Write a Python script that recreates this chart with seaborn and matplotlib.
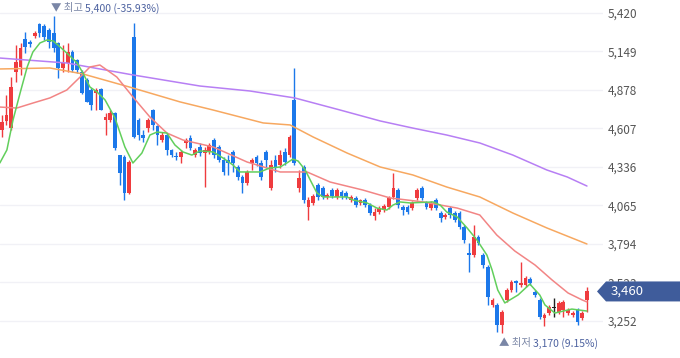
import numpy as np
import pandas as pd
import seaborn as sns
import matplotlib.pyplot as plt
from matplotlib.patches import Polygon

opens = [4595, 4660, 4610, 5005, 5040, 5235, 5215, 5260, 5340, 5330,
         5300, 5280, 5210, 5035, 5070, 5145, 5090, 5005, 4950, 4880,
         4855, 4885, 4665, 4665, 4715, 4420, 4405, 4155, 5250, 4665,
         4560, 4610, 4735, 4625, 4525, 4560, 4455, 4415, 4405, 4505,
         4540, 4420, 4475, 4435, 4440, 4525, 4475, 4385, 4385, 4440,
         4335, 4265, 4225, 4365, 4405, 4365, 4440, 4190, 4385, 4350,
         4440, 4420, 4810, 4190, 4335, 4055, 4085, 4210, 4190, 4125,
         4175, 4125, 4160, 4155, 4105, 4120, 4085, 4105, 4070, 3990,
         4020, 4035, 4055, 4125, 4175, 4055, 4055, 4045, 4120, 4190,
         4085, 4045, 4105, 4010, 3985, 4045, 4010, 4010, 3915, 3730,
         3715, 3845, 3715, 3630, 3365, 3365, 3225, 3400, 3470, 3535,
         3505, 3505, 3550, 3455, 3400, 3275, 3310, 3345, 3315, 3330,
         3310, 3295, 3330, 3275, 3400]
highs = [4700, 4845, 4970, 5195, 5210, 5285, 5230, 5295, 5350, 5340,
         5315, 5400, 5215, 5195, 5210, 5160, 5095, 5020, 4960, 4890,
         4890, 4890, 4715, 4735, 4725, 4420, 4420, 4385, 5350, 4680,
         4595, 4680, 4745, 4630, 4580, 4575, 4465, 4440, 4455, 4540,
         4560, 4470, 4505, 4475, 4505, 4540, 4490, 4405, 4420, 4455,
         4350, 4280, 4315, 4400, 4420, 4385, 4455, 4385, 4420, 4455,
         4470, 4560, 5035, 4315, 4350, 4125, 4145, 4225, 4200, 4155,
         4190, 4190, 4175, 4165, 4140, 4130, 4110, 4120, 4085, 4045,
         4060, 4075, 4130, 4295, 4190, 4070, 4070, 4095, 4190, 4200,
         4095, 4095, 4120, 4025, 4010, 4060, 4025, 4025, 3930, 3800,
         3930, 3855, 3730, 3645, 3415, 3380, 3330, 3485, 3540, 3540,
         3665, 3570, 3560, 3470, 3415, 3310, 3365, 3415, 3395, 3400,
         3345, 3320, 3345, 3320, 3490]
lows = [4545, 4630, 4595, 4935, 4985, 5140, 5180, 5245, 5250, 5230,
        5175, 5145, 4960, 5005, 5005, 5005, 4995, 4850, 4790, 4735,
        4735, 4735, 4560, 4655, 4455, 4210, 4105, 4145, 4540, 4525,
        4510, 4580, 4595, 4490, 4510, 4420, 4405, 4385, 4365, 4470,
        4455, 4405, 4415, 4195, 4425, 4400, 4370, 4280, 4280, 4300,
        4245, 4155, 4210, 4315, 4345, 4245, 4330, 4175, 4300, 4330,
        4350, 4405, 4350, 4160, 4085, 3965, 4070, 4105, 4110, 4110,
        4120, 4110, 4110, 4110, 4090, 4055, 4070, 4055, 4000, 3965,
        4005, 4020, 4040, 4110, 4045, 4000, 4005, 4035, 4105, 4105,
        4040, 4035, 4035, 3950, 3970, 3975, 3950, 3900, 3800, 3595,
        3700, 3785, 3625, 3365, 3350, 3175, 3170, 3385, 3455, 3455,
        3490, 3490, 3505, 3420, 3265, 3215, 3295, 3280, 3300, 3280,
        3295, 3280, 3225, 3260, 3315]
closes = [4655, 4700, 4900, 5075, 5175, 5180, 5200, 5280, 5280, 5250,
          5215, 5175, 5035, 5070, 5145, 5020, 5020, 4855, 4795, 4770,
          4880, 4735, 4690, 4715, 4470, 4295, 4155, 4370, 4545, 4560,
          4540, 4665, 4630, 4560, 4560, 4455, 4420, 4405, 4440, 4525,
          4470, 4455, 4435, 4455, 4490, 4420, 4385, 4300, 4365, 4365,
          4265, 4225, 4300, 4385, 4365, 4265, 4385, 4350, 4330, 4420,
          4370, 4545, 4365, 4260, 4105, 4105, 4130, 4125, 4125, 4140,
          4130, 4175, 4130, 4125, 4125, 4070, 4105, 4070, 4010, 4020,
          4045, 4060, 4120, 4190, 4070, 4035, 4020, 4085, 4175, 4120,
          4055, 4085, 4045, 3975, 4000, 4000, 3965, 3915, 3820, 3715,
          3845, 3800, 3645, 3420, 3400, 3225, 3315, 3470, 3525, 3520,
          3520, 3555, 3520, 3435, 3280, 3295, 3350, 3345, 3380, 3385,
          3330, 3310, 3245, 3310, 3460]

# moving averages, sampled along each line (x = candle position)
ma5_x = [-0.4, 1.1, 2.4, 3.9, 5.4, 6.6, 8.1, 9.6, 10.9, 11.9, 13.8, 16.0, 17.2,
         18.7, 20.2, 21.9, 24.0, 26.1, 27.8, 29.7, 31.4, 32.9, 35.0, 36.7, 38.4,
         40.3, 42.0, 44.8, 46.9, 49.0, 50.5, 54.7, 56.8, 59.0, 60.4, 61.7, 62.8,
         64.3, 65.7, 66.8, 68.1, 73.2, 74.4, 77.4, 79.5, 81.6, 82.9, 84.4, 86.5,
         91.4, 92.9, 94.3, 96.5, 98.6, 100.7, 102.8, 103.9, 105.1, 106.6, 109.4,
         111.9, 114.0, 115.1, 117.2, 120.8, 124.0]
ma5_y = [4364, 4456, 4667, 4857, 5040, 5145, 5209, 5230, 5223, 5195, 5138, 5068,
         4998, 4899, 4864, 4808, 4681, 4477, 4364, 4434, 4561, 4582, 4575, 4491,
         4442, 4420, 4449, 4442, 4399, 4350, 4301, 4301, 4329, 4336, 4364, 4392,
         4378, 4315, 4223, 4153, 4125, 4125, 4104, 4083, 4047, 4033, 4068, 4090,
         4083, 4090, 4068, 4019, 3984, 3907, 3822, 3716, 3611, 3470, 3379, 3435,
         3512, 3435, 3365, 3308, 3336, 3322]
ma20_x = [-0.4, 3.2, 6.6, 10.2, 13.8, 16.6, 18.7, 20.8, 24.4, 27.8, 31.4, 35.0,
          38.4, 44.8, 52.0, 59.0, 64.7, 69.6, 76.5, 82.3, 89.3, 96.5, 101.3,
          104.9, 108.7, 113.0, 116.6, 120.0, 123.0, 124.0]
ma20_y = [4758, 4751, 4786, 4822, 4878, 4969, 5040, 5054, 4969, 4829, 4688, 4575,
          4526, 4477, 4371, 4301, 4301, 4230, 4174, 4118, 4090, 4047, 3998, 3857,
          3745, 3646, 3541, 3449, 3400, 3386]
ma60_x = [-0.4, 10.2, 17.2, 27.8, 37.8, 44.8, 55.4, 61.1, 66.0, 73.2, 80.2, 87.1,
          94.3, 101.3, 108.3, 115.5, 124.0]
ma60_y = [5026, 5033, 4991, 4892, 4794, 4737, 4646, 4632, 4547, 4434, 4336, 4280,
          4195, 4125, 4012, 3907, 3794]
ma120_x = [-0.4, 13.8, 27.8, 42.0, 52.6, 62.1, 71.7, 80.2, 87.1, 94.3, 101.3,
           108.3, 115.5, 119.8, 124.0]
ma120_y = [5103, 5068, 4984, 4906, 4871, 4822, 4737, 4660, 4610, 4561, 4505, 4420,
           4315, 4266, 4202]

yticks = [3252, 3523, 3794, 4065, 4336, 4607, 4878, 5149, 5420]

sns.set_style('white')
plt.rcParams['font.family'] = ['Noto Sans CJK KR', 'DejaVu Sans']

df = pd.DataFrame({'open': opens, 'high': highs, 'low': lows, 'close': closes})
df['idx'] = np.arange(len(df))
df['color'] = np.where(df.close > df.open, '#ef3b3e',
                       np.where(df.close < df.open, '#1c78ea', '#222222'))
df['bottom'] = df[['open', 'close']].min(axis=1)
df['height'] = (df.close - df.open).abs().clip(lower=6)

fig = plt.figure(figsize=(6.8, 3.58), dpi=100)
ax = fig.add_axes([0, 0, 603 / 680, 1])

ax.vlines(df.idx, df.low, df.high, colors=df.color, linewidth=1, zorder=2)
ax.bar(df.idx, df.height, bottom=df.bottom, width=0.8, color=df.color,
       linewidth=0, zorder=2)

for xs, ys, c in [(ma120_x, ma120_y, '#b77ff4'), (ma60_x, ma60_y, '#f7a860'),
                  (ma20_x, ma20_y, '#f28585'), (ma5_x, ma5_y, '#62cf5c')]:
    sns.lineplot(x=xs, y=ys, color=c, linewidth=1.1, ax=ax, zorder=3)

ax.set_xlim(-0.36, 127.4)
ax.set_ylim(2991.5, 5511.5)
ax.set_xticks([])
ax.set_yticks(yticks)
ax.set_yticklabels([f'{v:,}' for v in yticks])
ax.yaxis.tick_right()
ax.tick_params(axis='y', length=0, pad=3.5, labelsize=8.5, labelcolor='#555555')
ax.grid(axis='y', color='#f1f1f6', linewidth=1)
ax.set_axisbelow(True)
sns.despine(ax=ax, left=True, bottom=True, right=True, top=True)

# highest / lowest markers
imax = int(df.high.idxmax())
imin = int(df.low.idxmin())
hi, lo, last = df.high[imax], df.low[imin], df.close.iloc[-1]
t1 = ax.annotate('▼ 최고', xy=(imax, hi), xytext=(-2, 5.5), textcoords='offset points',
                 ha='left', va='center', fontsize=7.5, color='#7a86a6')
ax.annotate(f'{hi:,} ({(last / hi - 1) * 100:.2f}%)', xy=(1, 0.5), xycoords=t1,
            xytext=(1.5, 0), textcoords='offset points',
            ha='left', va='center', fontsize=7.5, color='#4d62a0')
t2 = ax.annotate('▲ 최저', xy=(imin, lo), xytext=(-2, -7.5), textcoords='offset points',
                 ha='left', va='center', fontsize=7.5, color='#7a86a6')
ax.annotate(f'{lo:,} ({(last / lo - 1) * 100:.2f}%)', xy=(1, 0.5), xycoords=t2,
            xytext=(1.5, 0), textcoords='offset points',
            ha='left', va='center', fontsize=7.5, color='#4d62a0')

# current price tag
yc = fig.transFigure.inverted().transform(ax.transData.transform((0, last)))[1]
h = 10 / 358
tag = Polygon([[597 / 680, yc], [606 / 680, yc + h], [1, yc + h], [1, yc - h], [606 / 680, yc - h]],
              closed=True, transform=fig.transFigure, facecolor='#3f5c9b', edgecolor='none')
fig.patches.append(tag)
fig.text(611 / 680, yc, f'{last:,}', color='white', va='center', ha='left', fontsize=9.5)

plt.savefig('out.png', dpi=100)
